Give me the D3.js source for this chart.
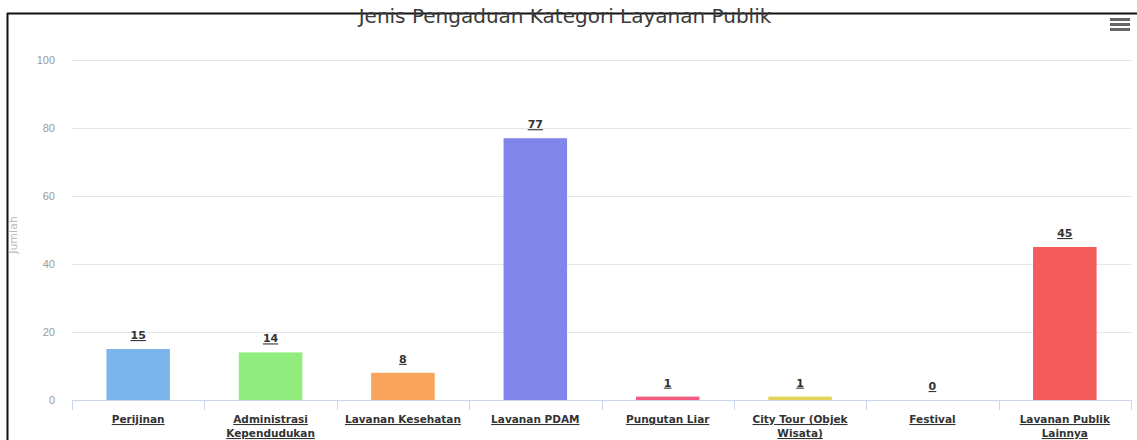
<!DOCTYPE html>
<html>
<head>
<meta charset="utf-8">
<script src="https://cdn.jsdelivr.net/npm/d3@7/dist/d3.min.js"></script>
<style>
  html, body { margin: 0; padding: 0; background: #fff; }
  svg { display: block; font-family: "DejaVu Sans", "Lucida Grande", Verdana, sans-serif; }
  .ylab { font-size: 11px; fill: #9a9a9a; }
  .xlab { font-size: 10.5px; font-weight: bold; fill: #333; text-decoration: underline; }
  .dlab { font-size: 11px; font-weight: bold; fill: #333; text-decoration: underline; }
</style>
</head>
<body>
<svg id="chart" width="1137" height="440"></svg>
<script>
// Complaint categories and their counts
const categories = [
  "Perijinan",
  "Administrasi Kependudukan",
  "Lavanan Kesehatan",
  "Lavanan PDAM",
  "Pungutan Liar",
  "City Tour (Objek Wisata)",
  "Festival",
  "Lavanan Publik Lainnya"
];
const values = [15, 14, 8, 77, 1, 1, 0, 45];
const yTicks = [0, 20, 40, 60, 80, 100];
const colors = ["#7cb5ec", "#90ed7d", "#f7a35c", "#8085e9", "#f15c80", "#e4d354", "#2b908f", "#f45b5b"];
const title = "Jenis Pengaduan Kategori Layanan Publik";
const yTitle = "Jumlah";

const svg = d3.select("#chart");
const W = 1137, H = 440;
const plot = { left: 72, right: 1131, top: 60, bottom: 400 };

const x = d3.scaleBand().domain(categories).range([plot.left, plot.right]).paddingInner(0.52).paddingOuter(0.26);
const xBand = d3.scaleBand().domain(categories).range([plot.left, plot.right]);
const y = d3.scaleLinear().domain([0, 100]).range([plot.bottom, plot.top]);

// Frame
svg.append("line").attr("x1", 7).attr("x2", W).attr("y1", 13.5).attr("y2", 13.5)
  .attr("stroke", "#111").attr("stroke-width", 2);
svg.append("line").attr("x1", 7.5).attr("x2", 7.5).attr("y1", 13).attr("y2", H)
  .attr("stroke", "#111").attr("stroke-width", 2);

// Gridlines
svg.append("g").selectAll("line").data(yTicks.filter(d => d > 0)).join("line")
  .attr("x1", plot.left).attr("x2", plot.right)
  .attr("y1", d => Math.round(y(d)) + 0.5).attr("y2", d => Math.round(y(d)) + 0.5)
  .attr("stroke", "#e6e6e6");

// Y axis labels
const yAxis = d3.axisLeft(y).tickValues(yTicks).tickSize(0).tickPadding(0);
const yg = svg.append("g").attr("transform", `translate(${plot.left - 17},0)`).call(yAxis);
yg.select(".domain").remove();
yg.selectAll("text").attr("class", "ylab").attr("fill", null).attr("font-size", null).attr("font-family", null);

svg.append("text").attr("class", "ylab")
  .attr("transform", `translate(17,${(plot.top + plot.bottom) / 2 + 5}) rotate(-90)`)
  .attr("text-anchor", "middle").style("fill", "#bbb").text(yTitle);

// Bars
svg.append("g").selectAll("rect").data(values).join("rect")
  .attr("x", (d, i) => x(categories[i]))
  .attr("width", x.bandwidth())
  .attr("y", d => y(d))
  .attr("height", d => y(0) - y(d))
  .attr("fill", (d, i) => colors[i]);

// Data labels
svg.append("g").selectAll("text").data(values).join("text")
  .attr("class", "dlab")
  .attr("x", (d, i) => x(categories[i]) + x.bandwidth() / 2)
  .attr("y", d => y(d) - 10)
  .attr("text-anchor", "middle")
  .text(d => d);

// X axis
const xg = svg.append("g").attr("transform", `translate(0,${plot.bottom})`);
xg.append("line").attr("x1", plot.left).attr("x2", plot.right).attr("y1", 0.5).attr("y2", 0.5).attr("stroke", "#ccd6eb");
const bounds = d3.range(categories.length + 1).map(i => plot.left + i * xBand.step());
xg.selectAll("line.tick").data(bounds).join("line").attr("class", "tick")
  .attr("x1", d => Math.round(d) + 0.5).attr("x2", d => Math.round(d) + 0.5)
  .attr("y1", 0).attr("y2", 10).attr("stroke", "#ccd6eb");

const lines = [
  ["Perijinan"],
  ["Administrasi", "Kependudukan"],
  ["Lavanan Kesehatan"],
  ["Lavanan PDAM"],
  ["Pungutan Liar"],
  ["City Tour (Objek", "Wisata)"],
  ["Festival"],
  ["Lavanan Publik", "Lainnya"]
];
categories.forEach((c, i) => {
  const t = xg.append("text").attr("class", "xlab").attr("text-anchor", "middle")
    .attr("x", xBand(c) + xBand.bandwidth() / 2).attr("y", 23);
  lines[i].forEach((s, k) => t.append("tspan").attr("x", xBand(c) + xBand.bandwidth() / 2).attr("dy", k === 0 ? 0 : 14).text(s));
});

// Title
svg.append("text").attr("x", 565).attr("y", 23).attr("text-anchor", "middle")
  .style("font-size", "20px").style("fill", "#3a3a3a").text(title);

// Menu icon
svg.append("g").selectAll("rect").data([0, 1, 2]).join("rect")
  .attr("x", 1110).attr("y", d => 18 + d * 5).attr("width", 20).attr("height", 3).attr("fill", "#666");
</script>
</body>
</html>
